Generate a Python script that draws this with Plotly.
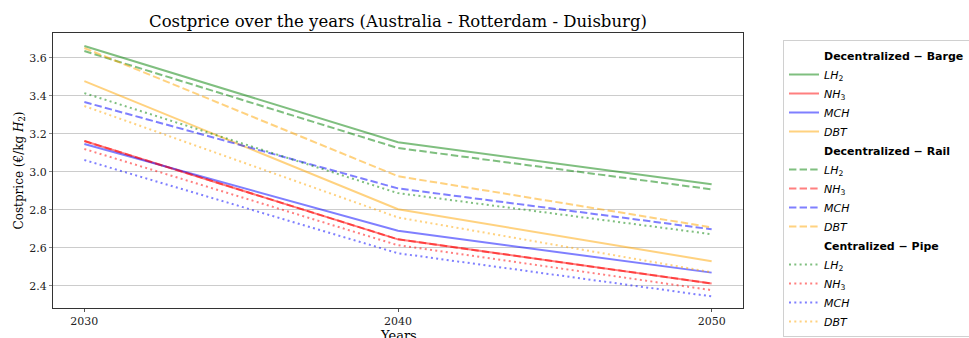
import plotly.graph_objects as go

years = [2030, 2040, 2050]

carriers = ["LH2", "NH3", "MCH", "DBT"]
carrier_labels = {
    "LH2": "<i>LH</i><sub>2</sub>",
    "NH3": "<i>NH</i><sub>3</sub>",
    "MCH": "<i>MCH</i>",
    "DBT": "<i>DBT</i>",
}
carrier_colors = {
    "LH2": "rgba(0,128,0,0.5)",
    "NH3": "rgba(255,0,0,0.5)",
    "MCH": "rgba(0,0,255,0.5)",
    "DBT": "rgba(255,165,0,0.5)",
}

# Cost price (EUR/kg H2) per transport route and carrier
barge = {
    "LH2": [3.662, 3.156, 2.935],
    "NH3": [3.162, 2.645, 2.413],
    "MCH": [3.146, 2.690, 2.470],
    "DBT": [3.477, 2.803, 2.530],
}
rail = {
    "LH2": [3.635, 3.125, 2.908],
    "NH3": [3.162, 2.645, 2.413],
    "MCH": [3.367, 2.913, 2.698],
    "DBT": [3.651, 2.977, 2.708],
}
pipe = {
    "LH2": [3.414, 2.888, 2.672],
    "NH3": [3.120, 2.614, 2.378],
    "MCH": [3.062, 2.572, 2.345],
    "DBT": [3.346, 2.760, 2.472],
}

routes = [
    ("Decentralized \u2212 Barge", barge, "solid"),
    ("Decentralized \u2212 Rail", rail, "7.4px,3.2px"),
    ("Centralized \u2212 Pipe", pipe, "2px,3.3px"),
]

fig = go.Figure()

for route_name, values, dash in routes:
    # heading row in the legend
    fig.add_trace(go.Scatter(
        x=[None], y=[None], mode="lines",
        line=dict(color="rgba(0,0,0,0)", width=2),
        name="<b>" + route_name + "</b>",
        hoverinfo="skip",
    ))
    for c in carriers:
        fig.add_trace(go.Scatter(
            x=years, y=values[c], mode="lines",
            line=dict(color=carrier_colors[c], width=2, dash=dash),
            name=carrier_labels[c],
        ))

serif = "DejaVu Serif"
plot_left, plot_right, plot_top, plot_bottom = 53, 743, 33, 308
plot_h = plot_bottom - plot_top

fig.update_layout(
    width=969, height=338,
    margin=dict(l=plot_left, r=969 - plot_right, t=plot_top, b=338 - plot_bottom,
                autoexpand=False),
    paper_bgcolor="white", plot_bgcolor="white",
    title=dict(
        text="Costprice over the years (Australia - Rotterdam - Duisburg)",
        x=(plot_left + plot_right) / 2 / 969, xanchor="center",
        y=1 - 21 / 338, yanchor="middle",
        font=dict(family=serif, size=16.5, color="black"),
    ),
    font=dict(family=serif, size=11, color="#222"),
    showlegend=True,
    legend=dict(
        x=1 + (783 - plot_right) / (plot_right - plot_left), xanchor="left",
        y=1 + (plot_top - 40) / plot_h, yanchor="top",
        bgcolor="white", bordercolor="#d0d0d0", borderwidth=1,
        font=dict(family="DejaVu Sans", size=11, color="black"),
        traceorder="normal", tracegroupgap=0, itemwidth=30,
        maxheight=400,
    ),
    annotations=[dict(
        text="Years", xref="paper", yref="paper",
        x=0.5, xanchor="center",
        y=-(326 - plot_bottom) / plot_h, yanchor="top",
        showarrow=False, font=dict(family=serif, size=13, color="black"),
    )],
)

fig.update_xaxes(
    range=[2029, 2051], tickvals=years, ticktext=[str(y) for y in years],
    showgrid=False, zeroline=False,
    showline=True, linecolor="#333", linewidth=1, mirror=True,
    ticks="outside", ticklen=3, tickcolor="#555",
    tickfont=dict(family=serif, size=11, color="#222"),
)
fig.update_yaxes(
    range=[2.284, 3.73], tickvals=[2.4, 2.6, 2.8, 3.0, 3.2, 3.4, 3.6],
    ticktext=["2.4", "2.6", "2.8", "3.0", "3.2", "3.4", "3.6"],
    showgrid=True, gridcolor="#cccccc", gridwidth=1.2, zeroline=False,
    showline=True, linecolor="#333", linewidth=1, mirror=True,
    ticks="outside", ticklen=3, tickcolor="#888",
    tickfont=dict(family=serif, size=11, color="#222"),
    title=dict(text="Costprice (\u20ac/kg <i>H</i><sub>2</sub>)",
               font=dict(family=serif, size=12, color="black"), standoff=3),
)

fig.write_html("out.html")
